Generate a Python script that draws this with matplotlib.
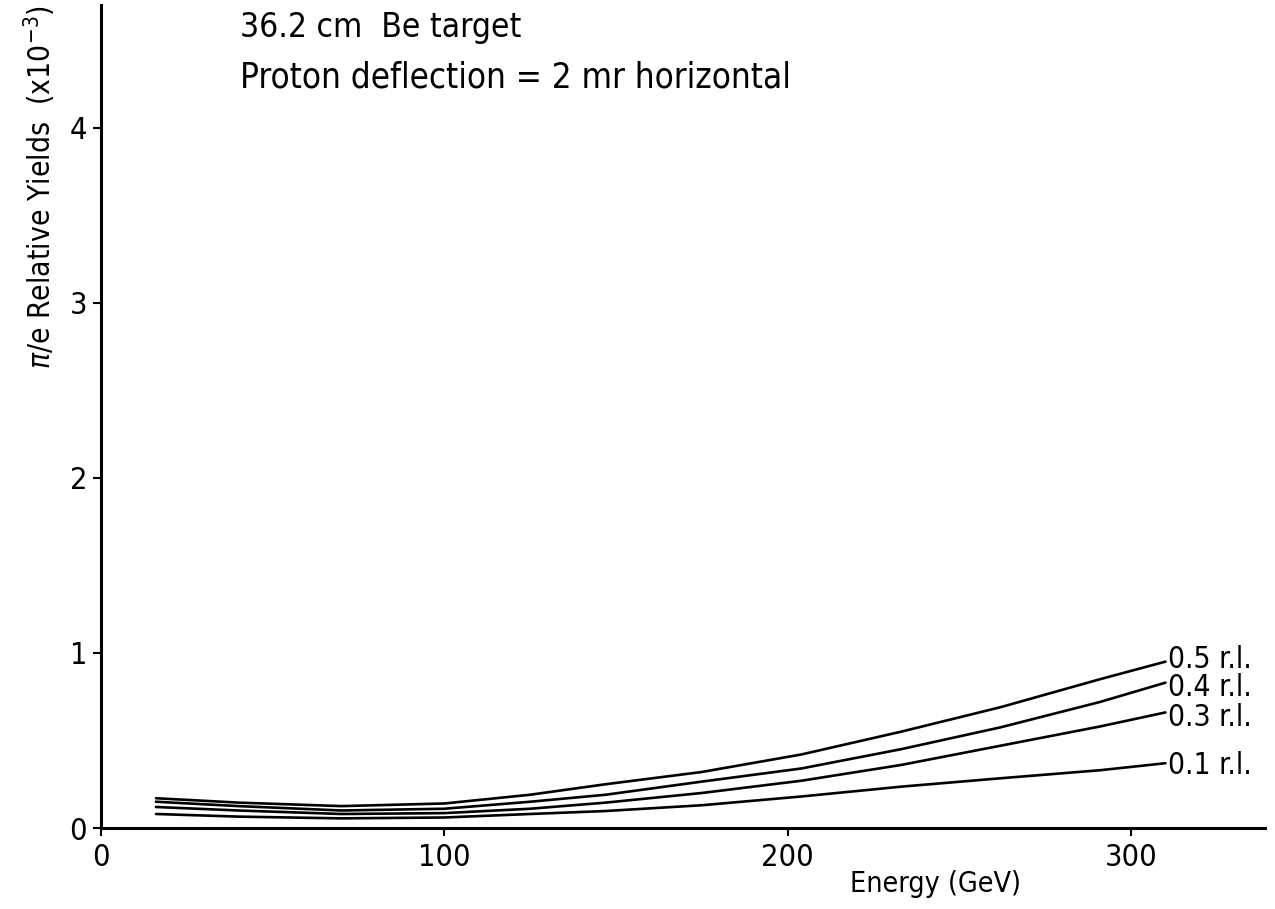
import matplotlib
matplotlib.use("Agg")
import matplotlib.pyplot as plt

# Data
energy = [16, 40, 70, 100, 125, 147, 175, 204, 233, 262, 291, 310]
r05 = [0.17, 0.145, 0.125, 0.14, 0.19, 0.25, 0.32, 0.42, 0.55, 0.69, 0.85, 0.95]
r04 = [0.15, 0.125, 0.10, 0.11, 0.15, 0.19, 0.265, 0.34, 0.45, 0.575, 0.72, 0.83]
r03 = [0.12, 0.10, 0.08, 0.085, 0.11, 0.145, 0.20, 0.27, 0.36, 0.47, 0.58, 0.66]
r01 = [0.08, 0.065, 0.055, 0.06, 0.08, 0.097, 0.13, 0.18, 0.236, 0.284, 0.33, 0.37]
labels = ["0.5 r.l.", "0.4 r.l.", "0.3 r.l.", "0.1 r.l."]
series = [r05, r04, r03, r01]
xticks = [0, 100, 200, 300]
yticks = [0, 1, 2, 3, 4]

plt.rcParams['font.family'] = ['DejaVu Sans']
plt.rcParams['font.stretch'] = 'condensed'

fig = plt.figure(figsize=(12.75, 9.09), dpi=100)
W, H = 1275, 909
ax = fig.add_axes([101 / W, (H - 828) / H, (1265 - 101) / W, (828 - 5) / H])

label_dy = [1.5, -3.5, -3.5, -2]
for label, vals, dy in zip(labels, series, label_dy):
    ax.plot(energy, vals, color='black', lw=1.9, solid_capstyle='round',
            solid_joinstyle='round')
    ax.annotate(label, xy=(energy[-1], vals[-1]), xytext=(2, dy),
                textcoords='offset points', va='center', ha='left',
                fontsize=21.5, color='black', fontstretch='condensed')

ax.set_xlim(0, 339)
ax.set_ylim(0, 4.7)
ax.set_xticks(xticks)
ax.set_yticks(yticks)
ax.set_xticklabels([str(t) for t in xticks], fontsize=22, fontstretch='condensed')
ax.set_yticklabels([str(t) for t in yticks], fontsize=22, fontstretch='condensed')
ax.tick_params(axis='both', direction='out', length=6, width=1.5, color='black')
ax.tick_params(axis='x', pad=5)
ax.tick_params(axis='y', pad=4)

for s in ['top', 'right']:
    ax.spines[s].set_visible(False)
for s in ['left', 'bottom']:
    ax.spines[s].set_linewidth(2.2)

fig.text(240 / W, 1 - 28 / H, "36.2 cm  Be target", fontsize=24, ha='left',
         va='center', fontstretch='condensed')
fig.text(240 / W, 1 - 77 / H, "Proton deflection = 2 mr horizontal", fontsize=25,
         ha='left', va='center', fontstretch='condensed')
fig.text(936 / W, 1 - 884 / H, "Energy (GeV)", fontsize=20.5, ha='center',
         va='center', fontstretch='condensed')
fig.text(40 / W, 1 - 187 / H, r"$\pi$/e Relative Yields  (x10$^{-3}$)", fontsize=21.5,
         ha='center', va='center', rotation=90, fontstretch='condensed')

fig.savefig("out.png", dpi=100, facecolor='white')
